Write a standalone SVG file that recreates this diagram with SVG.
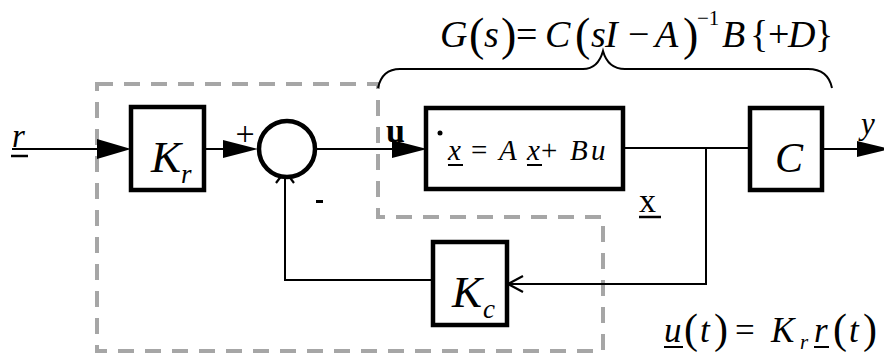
<svg xmlns="http://www.w3.org/2000/svg" width="884" height="354" viewBox="0 0 884 354">
<style>
.blk{fill:#fff;stroke:#000;stroke-width:4.5}
.ln{fill:none;stroke:#000;stroke-width:2}
.dash{fill:none;stroke:#a6a6a6;stroke-width:4;stroke-dasharray:16 11}
.t{font-family:'Liberation Serif','Times New Roman','DejaVu Serif',serif;fill:#000}
.i{font-style:italic}
.head{fill:#000;stroke:none}
.open{fill:none;stroke:#000;stroke-width:2.2}
</style>
<rect width="884" height="354" fill="#fff"/>
<g id="boundary">
<path class="dash" d="M97,84 L378,84 L378,217 L603,217 L603,351 L97,351 Z"/>
</g>
<g id="brace">
<path class="ln" d="M378,88 Q382,69 400,69 L583,69 Q598,69 603,51 Q608,69 625,69 L808,69 Q828,69 832,88" stroke-width="2.5"/>
</g>
<g id="connectors">
<line class="ln" x1="12" y1="149" x2="100" y2="149"/>
<polygon class="head" points="131,149 97,139 97,159"/>
<line class="ln" x1="205" y1="149" x2="226" y2="149"/>
<polygon class="head" points="258,149 223,140 223,158"/>
<line class="ln" x1="317" y1="149" x2="395" y2="149"/>
<polygon class="head" points="427,149 392,140 392,158"/>
<line class="ln" x1="608" y1="148" x2="750" y2="148"/>
<line class="ln" x1="822" y1="149" x2="860" y2="149"/>
<polygon class="head" points="890,149 857,141 857,157"/>
<polyline class="ln" points="706,148 706,284 509,284"/>
<polyline class="open" points="523,276 508,284 523,292"/>
<polyline class="ln" points="433,280 285,280 285,173"/>
<polyline class="open" points="276,183 285,171 294,183"/>
</g>
<g id="Kr">
<rect class="blk" x="131" y="107" width="73" height="83"/>
<text class="t i" x="151" y="172" font-size="45">K</text>
<text class="t i" x="181" y="183" font-size="27">r</text>
</g>
<g id="sum">
<circle cx="287" cy="149" r="28" fill="#fff" stroke="#000" stroke-width="4.5"/>
<text class="t" x="245" y="145" font-size="34" text-anchor="middle">+</text>
<rect x="316" y="200" width="7" height="3" fill="#000"/>
</g>
<g id="plant">
<rect class="blk" x="426" y="108" width="197" height="81"/>
<circle cx="440" cy="133" r="2.5" fill="#000"/>
<text class="t i" font-size="29" y="160"><tspan x="448">x</tspan><tspan x="471" font-style="normal">=</tspan><tspan x="499">A</tspan><tspan x="527">x</tspan><tspan x="541" font-style="normal">+</tspan><tspan x="570">B</tspan><tspan x="591">u</tspan></text>
<line x1="448" y1="165" x2="463" y2="165" stroke="#000" stroke-width="2"/>
<line x1="527" y1="165" x2="542" y2="165" stroke="#000" stroke-width="2"/>
</g>
<g id="Cbox">
<rect class="blk" x="750" y="108" width="72" height="82"/>
<text class="t i" x="775" y="172" font-size="42">C</text>
</g>
<g id="Kc">
<rect class="blk" x="433" y="242" width="74" height="83"/>
<text class="t i" x="452" y="307" font-size="45">K</text>
<text class="t i" x="483" y="318" font-size="27">c</text>
</g>
<g id="labels">
<text class="t i" x="12" y="147" font-size="33">r</text>
<line x1="11" y1="156" x2="28" y2="156" stroke="#000" stroke-width="2.5"/>
<text class="t" x="386" y="142" font-size="34" font-weight="bold">u</text>
<text class="t" x="639" y="212" font-size="34">x</text>
<line x1="639" y1="217" x2="661" y2="217" stroke="#000" stroke-width="2.5"/>
<text class="t i" x="861" y="134" font-size="31">y</text>
<text class="t" font-size="38" y="47"><tspan x="440" font-style="italic">G</tspan><tspan x="469" y="50" font-size="46">(</tspan><tspan x="484" y="47" font-style="italic">s</tspan><tspan x="501" y="50" font-size="46">)</tspan><tspan x="516" y="47">=</tspan><tspan x="545" font-style="italic">C</tspan><tspan x="575" y="50" font-size="46">(</tspan><tspan x="591" y="47" font-style="italic">s</tspan><tspan x="605" font-style="italic">I</tspan><tspan x="628">−</tspan><tspan x="655" font-style="italic">A</tspan><tspan x="683" y="50" font-size="46">)</tspan><tspan x="697" y="25" font-size="21">−1</tspan><tspan x="722" y="47" font-style="italic">B</tspan><tspan x="750">{</tspan><tspan x="768">+</tspan><tspan x="788" font-style="italic">D</tspan><tspan x="815">}</tspan></text>
<text class="t" font-size="35" y="342"><tspan x="664" font-style="italic">u</tspan><tspan x="684" y="343" font-size="42">(</tspan><tspan x="700" y="342" font-style="italic">t</tspan><tspan x="714" y="343" font-size="42">)</tspan><tspan x="735" y="342">=</tspan><tspan x="771" font-style="italic">K</tspan><tspan x="800" y="349" font-size="21" font-style="italic">r</tspan><tspan x="814" y="342" font-style="italic">r</tspan><tspan x="833" y="343" font-size="42">(</tspan><tspan x="849" y="342" font-style="italic">t</tspan><tspan x="863" y="343" font-size="42">)</tspan></text>
<line x1="664" y1="347" x2="683" y2="347" stroke="#000" stroke-width="2"/>
<line x1="814" y1="347" x2="829" y2="347" stroke="#000" stroke-width="2"/>
</g>
</svg>
